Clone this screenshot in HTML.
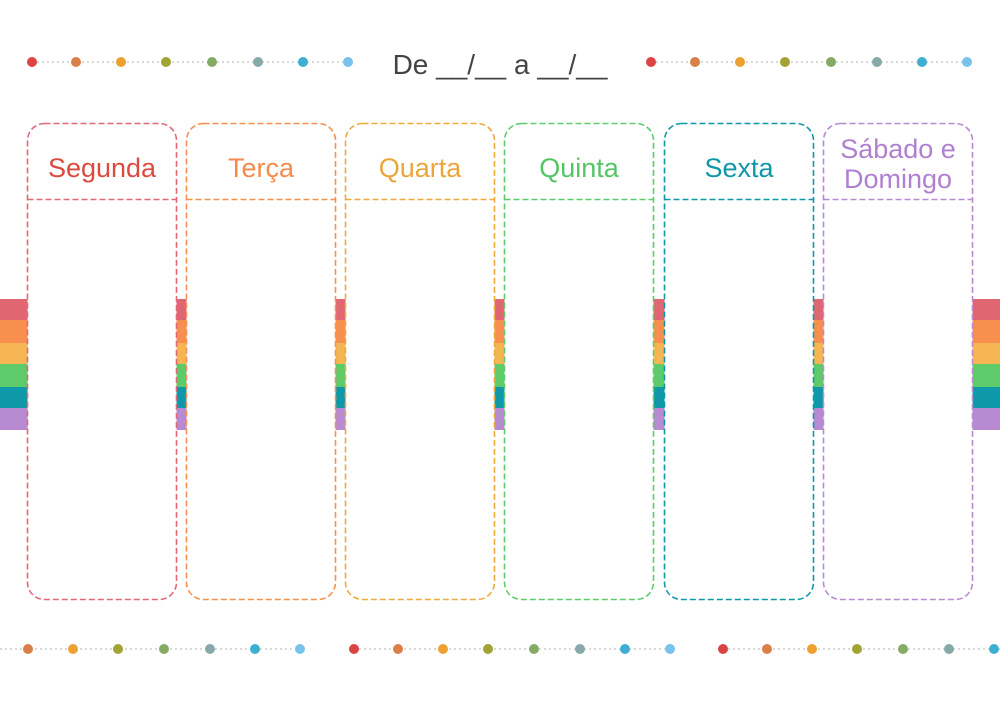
<!DOCTYPE html>
<html><head><meta charset="utf-8"><style>
body{margin:0;width:1000px;height:707px;background:#fff;position:relative;overflow:hidden;font-family:"Liberation Sans","DejaVu Sans",sans-serif}
.st{position:absolute;left:0;width:1000px}
.hd{position:absolute;top:123px;width:150px;height:76px;display:flex;align-items:center;justify-content:center;text-align:center;font-size:27px;line-height:30px;padding-top:13px;box-sizing:border-box}
</style></head><body>
<div class="st" style="top:299px;height:21px;background:#e06672"></div>
<div class="st" style="top:320px;height:23px;background:#f78f4e"></div>
<div class="st" style="top:343px;height:21px;background:#f5b552"></div>
<div class="st" style="top:364px;height:23px;background:#5ecb6a"></div>
<div class="st" style="top:387px;height:21px;background:#0e98a8"></div>
<div class="st" style="top:408px;height:22px;background:#b88ad2"></div>

<svg width="1000" height="707" style="position:absolute;left:0;top:0" xmlns="http://www.w3.org/2000/svg">
<g fill="#fff" stroke-width="1.6" stroke-dasharray="6 3">
<rect x="27.5" y="123.5" width="149" height="476" rx="17" stroke="#e0687a"/>
<line x1="27.5" y1="199.5" x2="176.5" y2="199.5" stroke="#e0687a"/>
<rect x="186.5" y="123.5" width="149" height="476" rx="17" stroke="#f5904e"/>
<line x1="186.5" y1="199.5" x2="335.5" y2="199.5" stroke="#f5904e"/>
<rect x="345.5" y="123.5" width="149" height="476" rx="17" stroke="#eeaa3a"/>
<line x1="345.5" y1="199.5" x2="494.5" y2="199.5" stroke="#eeaa3a"/>
<rect x="504.5" y="123.5" width="149" height="476" rx="17" stroke="#5ecb6a"/>
<line x1="504.5" y1="199.5" x2="653.5" y2="199.5" stroke="#5ecb6a"/>
<rect x="664.5" y="123.5" width="149" height="476" rx="17" stroke="#0e98a8"/>
<line x1="664.5" y1="199.5" x2="813.5" y2="199.5" stroke="#0e98a8"/>
<rect x="823.5" y="123.5" width="149" height="476" rx="17" stroke="#b88ad2"/>
<line x1="823.5" y1="199.5" x2="972.5" y2="199.5" stroke="#b88ad2"/>
</g>
<g stroke="#ccc" stroke-width="1.5" stroke-dasharray="2 3">
<line x1="32" y1="62" x2="348" y2="62"/>
<line x1="651" y1="62" x2="968" y2="62"/>
<line x1="0" y1="649" x2="301" y2="649"/>
<line x1="354" y1="649" x2="670" y2="649"/>
<line x1="723" y1="649" x2="1000" y2="649"/>
</g>
<g id="d">
<circle cx="32" cy="62" r="5" fill="#dc4444"/>
<circle cx="76" cy="62" r="5" fill="#db7f48"/>
<circle cx="121" cy="62" r="5" fill="#eba232"/>
<circle cx="166" cy="62" r="5" fill="#a1a333"/>
<circle cx="212" cy="62" r="5" fill="#85aa64"/>
<circle cx="258" cy="62" r="5" fill="#86a9a9"/>
<circle cx="303" cy="62" r="5" fill="#3eafd2"/>
<circle cx="348" cy="62" r="5" fill="#77c3ec"/>
</g>
<use href="#d" x="619"/>
<g transform="translate(-48,587)">
<circle cx="76" cy="62" r="5" fill="#db7f48"/>
<circle cx="121" cy="62" r="5" fill="#eba232"/>
<circle cx="166" cy="62" r="5" fill="#a1a333"/>
<circle cx="212" cy="62" r="5" fill="#85aa64"/>
<circle cx="258" cy="62" r="5" fill="#86a9a9"/>
<circle cx="303" cy="62" r="5" fill="#3eafd2"/>
<circle cx="348" cy="62" r="5" fill="#77c3ec"/>
</g>
<use href="#d" x="322" y="587"/>
<use href="#d" x="691" y="587"/>
</svg>

<div class="hd" style="left:27px;color:#dc4a40">Segunda</div>
<div class="hd" style="left:186px;color:#f58a4a">Terça</div>
<div class="hd" style="left:345px;color:#eba53a">Quarta</div>
<div class="hd" style="left:504px;color:#55c465">Quinta</div>
<div class="hd" style="left:664px;color:#0e98a8">Sexta</div>
<div class="hd" style="left:823px;color:#b17fd0;padding-top:6px">Sábado e<br>Domingo</div>

<div style="position:absolute;left:380px;top:49px;width:240px;text-align:center;font-size:28px;color:#444">De __/__ a __/__</div>
</body></html>
